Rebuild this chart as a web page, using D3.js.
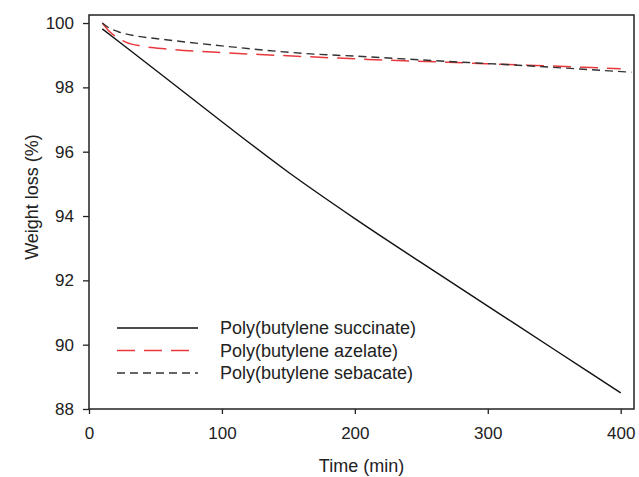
<!DOCTYPE html>
<html>
<head>
<meta charset="utf-8">
<script src="https://cdn.jsdelivr.net/npm/d3@7"></script>
<style>
  body { margin: 0; background: #fff; }
  text { font-family: "Liberation Sans", Arial, sans-serif; fill: #222; }
</style>
</head>
<body>
<svg id="chart" width="639" height="477"></svg>
<script>
// data
const timeSuccinate = [10, 25, 50, 100, 150, 200, 250, 300, 350, 400];
const succinate     = [99.82, 99.34, 98.54, 96.93, 95.36, 93.92, 92.55, 91.2, 89.85, 88.5];

const timeAzelate = [10, 15, 20, 28, 40, 60, 100, 140, 210, 270, 330, 400];
const azelate     = [100, 99.75, 99.58, 99.4, 99.28, 99.19, 99.08, 99.0, 98.87, 98.78, 98.69, 98.58];

const timeSebacate = [10, 15, 22, 35, 50, 100, 160, 210, 260, 330, 408];
const sebacate     = [100, 99.85, 99.73, 99.6, 99.52, 99.29, 99.06, 98.95, 98.83, 98.67, 98.47];

const xTicks = [0, 100, 200, 300, 400];
const yTicks = [88, 90, 92, 94, 96, 98, 100];

const seriesNames = ["Poly(butylene succinate)", "Poly(butylene azelate)", "Poly(butylene sebacate)"];

const series = [
  { name: seriesNames[0], t: timeSuccinate, v: succinate, color: "#111", dash: null, width: 1.4 },
  { name: seriesNames[1], t: timeAzelate, v: azelate, color: "#e8383d", dash: "18,9", width: 1.5 },
  { name: seriesNames[2], t: timeSebacate, v: sebacate, color: "#333", dash: "8,5", width: 1.4 }
];

const svg = d3.select("#chart");
const margin = { top: 15, right: 5, bottom: 68, left: 89 };
const width = 639 - margin.left - margin.right;
const height = 477 - margin.top - margin.bottom;

const x = d3.scaleLinear().domain([0, 410]).range([0, width]);
const y = d3.scaleLinear().domain([88, 100.25]).range([height, 0]);

const g = svg.append("g").attr("transform", `translate(${margin.left},${margin.top})`);

// lines
const line = d3.line().curve(d3.curveMonotoneX);
series.forEach(s => {
  g.append("path")
    .attr("d", line(s.t.map((t, i) => [x(t), y(s.v[i])])))
    .attr("fill", "none")
    .attr("stroke", s.color)
    .attr("stroke-width", s.width)
    .attr("stroke-dasharray", s.dash);
});

// axes
const xAxis = g.append("g")
  .attr("transform", `translate(0,${height})`)
  .call(d3.axisBottom(x).tickValues(xTicks).tickSize(5).tickPadding(13));
const yAxis = g.append("g")
  .call(d3.axisLeft(y).tickValues(yTicks).tickSize(6).tickPadding(9));

[xAxis, yAxis].forEach(a => {
  a.select(".domain").remove();
  a.selectAll("line").attr("stroke", "#222").attr("stroke-width", 1.3);
  a.selectAll("text")
    .attr("font-size", 17)
    .attr("fill", "#222");
});

// frame
g.append("rect")
  .attr("width", width)
  .attr("height", height)
  .attr("fill", "none")
  .attr("stroke", "#222")
  .attr("stroke-width", 1.5);

// axis titles
svg.append("text")
  .attr("x", margin.left + width / 2)
  .attr("y", 466)
  .attr("text-anchor", "middle")
  .attr("dy", "0.35em")
  .attr("font-size", 18)
  .text("Time (min)");

svg.append("text")
  .attr("transform", "translate(32,197) rotate(-90)")
  .attr("text-anchor", "middle")
  .attr("dy", "0.35em")
  .attr("font-size", 18)
  .text("Weight loss (%)");

// legend
const legend = svg.append("g");
series.forEach((s, i) => {
  const ly = 328 + i * 22.5;
  legend.append("line")
    .attr("x1", 117).attr("x2", 198)
    .attr("y1", ly).attr("y2", ly)
    .attr("stroke", s.color)
    .attr("stroke-width", s.width)
    .attr("stroke-dasharray", s.dash);
  legend.append("text")
    .attr("x", 220)
    .attr("y", ly)
    .attr("dy", "0.35em")
    .attr("font-size", 18)
    .text(s.name);
});
</script>
</body>
</html>
